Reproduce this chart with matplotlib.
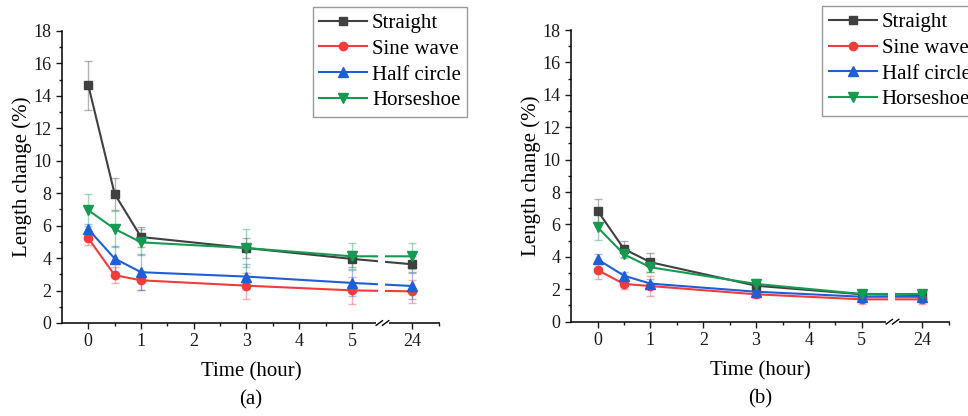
import numpy as np
import matplotlib
matplotlib.use("Agg")
import matplotlib.pyplot as plt
from matplotlib.ticker import AutoMinorLocator, FixedLocator

plt.rcParams['font.family'] = ['Liberation Serif', 'DejaVu Serif']

# time points (hours); 24 h sits after an axis break
time_hours = [0, 0.5, 1, 3, 5, 24]
tick_hours = [0, 1, 2, 3, 4, 5, 24]
series_names = ['Straight', 'Sine wave', 'Half circle', 'Horseshoe']

# panel (a)
straight_a = [14.65, 7.95, 5.30, 4.62, 3.95, 3.62]
straight_a_err = [1.50, 1.00, 0.60, 0.60, 0.50, 0.50]
sine_a = [5.22, 2.95, 2.63, 2.30, 2.01, 1.95]
sine_a_err = [0.40, 0.50, 0.60, 0.80, 0.85, 0.70]
half_a = [5.78, 3.97, 3.13, 2.86, 2.47, 2.28]
half_a_err = [0.35, 0.80, 1.10, 0.75, 0.80, 0.80]
horse_a = [6.95, 5.80, 4.97, 4.62, 4.11, 4.11]
horse_a_err = [1.00, 1.10, 0.80, 1.15, 0.80, 0.80]

# panel (b)
straight_b = [6.85, 4.49, 3.67, 2.22, 1.69, 1.65]
straight_b_err = [0.75, 0.50, 0.60, 0.30, 0.20, 0.20]
sine_b = [3.19, 2.33, 2.20, 1.69, 1.38, 1.38]
sine_b_err = [0.55, 0.30, 0.60, 0.25, 0.30, 0.30]
half_b = [3.85, 2.84, 2.35, 1.85, 1.54, 1.54]
half_b_err = [0.30, 0.25, 0.30, 0.20, 0.20, 0.20]
horse_b = [5.83, 4.16, 3.36, 2.33, 1.71, 1.71]
horse_b_err = [0.80, 0.20, 0.30, 0.30, 0.25, 0.25]

colors = ['#404040', '#f23b3b', '#1f5fd6', '#169a52']
markers = ['s', 'o', '^', 'v']
msizes = [5.5, 6, 6.5, 6.5]

# broken x axis: linear up to 5 h, then 24 h placed just after the break
BREAK_LO, BREAK_HI = 5.49, 5.62
POS_24 = 6.14
XMIN, XMAX = -0.5, 6.67


def to_axis(t):
    t = np.asarray(t, dtype=float)
    return np.where(t <= 5, t, POS_24)


def draw_panel(ax, values, errors, label):
    x = to_axis(time_hours)
    for name, y, e, c, m, ms in zip(series_names, values, errors, colors, markers, msizes):
        ax.errorbar(x, y, yerr=e, fmt='none', ecolor=c, alpha=0.4,
                    elinewidth=1, capsize=3, capthick=1, zorder=1.5)
        ax.plot(x, y, color=c, marker=m, markersize=ms, linewidth=1.5,
                label=name, zorder=2)

    # gap in the data lines at the axis break
    ax.axvspan(BREAK_LO, BREAK_HI, ymin=0.004, ymax=1, color='white',
               zorder=2.3, lw=0)

    ax.set_xlim(XMIN, XMAX)
    ax.set_ylim(0, 18)
    ax.set_xticks(to_axis(tick_hours))
    ax.set_xticklabels([str(t) for t in tick_hours])
    ax.xaxis.set_minor_locator(FixedLocator([0.5, 1.5, 2.5, 3.5, 4.5, 6.65]))
    ax.set_yticks(np.arange(0, 19, 2))
    ax.yaxis.set_minor_locator(AutoMinorLocator(2))
    ax.tick_params(which='both', direction='out', width=1, labelsize=13,
                   colors='#1a1a1a', pad=3)
    ax.tick_params(which='major', length=4.5)
    ax.tick_params(which='minor', length=2.5)

    for side in ['top', 'right', 'bottom']:
        ax.spines[side].set_visible(False)
    ax.spines['left'].set_linewidth(1.1)

    # bottom spine drawn in two pieces with break marks
    tr = ax.get_xaxis_transform()
    ax.plot([XMIN, 5.46], [0, 0], color='black', lw=1.1, transform=tr,
            clip_on=False, zorder=3, solid_capstyle='butt')
    ax.plot([5.70, XMAX], [0, 0], color='black', lw=1.1, transform=tr,
            clip_on=False, zorder=3, solid_capstyle='butt')
    for xc in [5.52, 5.64]:
        ax.plot([xc - 0.06, xc + 0.06], [-0.008, 0.008], color='black', lw=1.0,
                transform=tr, clip_on=False, zorder=3)

    ax.set_xlabel('Time (hour)', fontsize=15)
    ax.xaxis.set_label_coords(0.5, -0.168)
    ax.xaxis.label.set_va('center')
    ax.set_ylabel('Length change (%)', fontsize=15)
    ax.yaxis.set_label_coords(-0.106, 0.5)
    ax.yaxis.label.set_va('center')
    ax.text(0.5, -0.264, label, transform=ax.transAxes, ha='center',
            va='center', fontsize=15)

    leg = ax.legend(loc='upper left', bbox_to_anchor=(0.663, 1.082),
                    borderaxespad=0, fontsize=15, handlelength=2.3,
                    handletextpad=0.25, labelspacing=0.3, borderpad=0.3,
                    fancybox=False, framealpha=1, edgecolor='#999999')
    leg.get_frame().set_linewidth(1.0)
    leg.set_zorder(5)


fig = plt.figure(figsize=(9.68, 4.16), dpi=100)
ax_a = fig.add_axes([0.064, 0.2236, 0.3905, 0.702])
ax_b = fig.add_axes([0.590, 0.2267, 0.3915, 0.701])

draw_panel(ax_a, [straight_a, sine_a, half_a, horse_a],
           [straight_a_err, sine_a_err, half_a_err, horse_a_err], '(a)')
draw_panel(ax_b, [straight_b, sine_b, half_b, horse_b],
           [straight_b_err, sine_b_err, half_b_err, horse_b_err], '(b)')

fig.savefig('out.png', dpi=100)
